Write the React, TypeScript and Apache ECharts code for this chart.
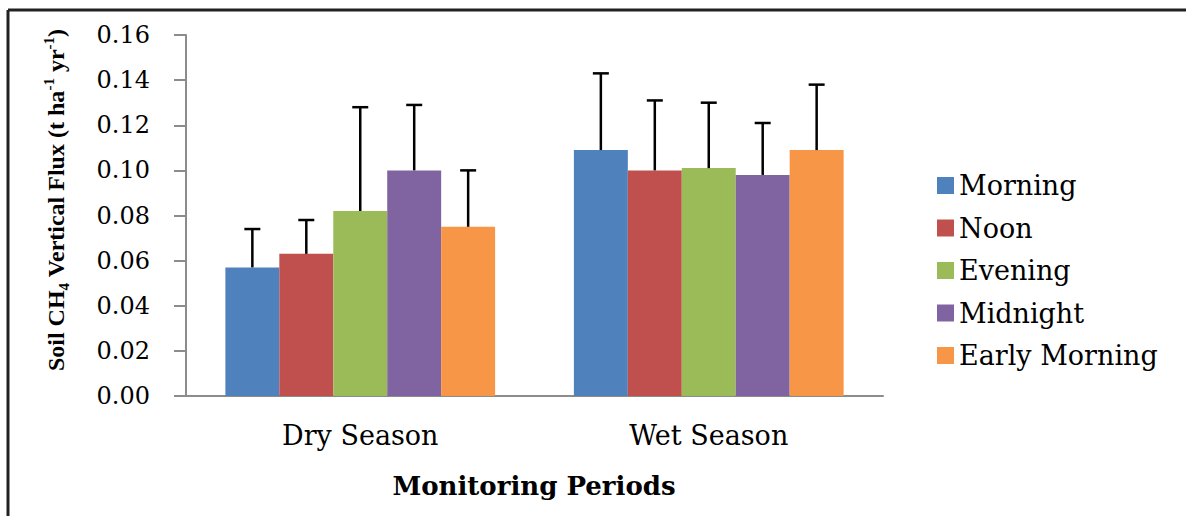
import React, { useEffect, useRef } from "react";
import * as echarts from "echarts";

const categories = ["Dry Season", "Wet Season"];
const seriesNames = ["Morning", "Noon", "Evening", "Midnight", "Early Morning"];
const morning = [0.057, 0.109];
const noon = [0.063, 0.1];
const evening = [0.082, 0.101];
const midnight = [0.1, 0.098];
const earlyMorning = [0.075, 0.109];
const morningSD = [0.017, 0.034];
const noonSD = [0.015, 0.031];
const eveningSD = [0.046, 0.029];
const midnightSD = [0.029, 0.023];
const earlyMorningSD = [0.025, 0.029];
const yTicks = [0, 0.02, 0.04, 0.06, 0.08, 0.1, 0.12, 0.14, 0.16];

const means = [morning, noon, evening, midnight, earlyMorning];
const sds = [morningSD, noonSD, eveningSD, midnightSD, earlyMorningSD];
const colors = ["#4F81BD", "#C0504D", "#9BBB59", "#8064A2", "#F79646"];
const GAP = 0.226;

export default function App() {
  const ref = useRef<HTMLDivElement>(null);
  useEffect(() => {
    if (!ref.current) return;
    const chart = echarts.init(ref.current, null, { renderer: "svg" });
    const barSeries = seriesNames.map((name, i) => ({
      name,
      type: "bar",
      data: means[i],
      barGap: "0%",
      barCategoryGap: (GAP * 100).toFixed(1) + "%",
      itemStyle: { color: colors[i] },
      z: 2,
    }));
    const errSeries = seriesNames.map((name, i) => ({
      name: "err-" + name,
      type: "custom",
      z: 5,
      data: categories.map((_, ci) => [ci, means[i][ci], sds[i][ci]]),
      encode: { x: 0, y: 1 },
      renderItem: (params: any, api: any) => {
        const ci = api.value(0);
        const m = api.value(1);
        const sd = api.value(2);
        const band = api.size([1, 0])[0];
        const bw = (band * (1 - GAP)) / 5;
        const cx = api.coord([ci, 0])[0] + (i - 2) * bw;
        const yBase = api.coord([ci, m])[1];
        const yTop = api.coord([ci, m + sd])[1];
        const st = { stroke: "#000", lineWidth: 2.5 };
        return {
          type: "group",
          children: [
            { type: "line", shape: { x1: cx, y1: yBase, x2: cx, y2: yTop }, style: st },
            { type: "line", shape: { x1: cx - 8, y1: yTop, x2: cx + 8, y2: yTop }, style: st },
          ],
        };
      },
    }));
    chart.setOption({
      animation: false,
      backgroundColor: "#fff",
      grid: { left: 186, right: 303, top: 35, bottom: 120 },
      legend: {
        data: seriesNames,
        orient: "vertical",
        left: 932,
        top: 167,
        itemWidth: 17,
        itemHeight: 17,
        itemGap: 15.5,
        icon: "rect",
        textStyle: { fontFamily: "DejaVu Serif", fontSize: 27, color: "#000" },
      },
      xAxis: {
        type: "category",
        data: categories,
        axisTick: { show: false },
        axisLine: { lineStyle: { color: "#8c8c8c", width: 2 } },
        axisLabel: {
          margin: 26,
          fontFamily: "DejaVu Serif",
          fontSize: 27,
          color: "#000",
        },
      },
      yAxis: {
        type: "value",
        min: 0,
        max: yTicks[yTicks.length - 1],
        interval: 0.02,
        splitLine: { show: false },
        axisLine: { show: true, lineStyle: { color: "#8c8c8c", width: 2 } },
        axisTick: { show: true, length: 12, lineStyle: { color: "#8c8c8c", width: 2 } },
        axisLabel: {
          margin: 36,
          fontFamily: "DejaVu Serif",
          fontSize: 24,
          color: "#000",
          formatter: (v: number) => v.toFixed(2),
        },
      },
      graphic: [
        {
          type: "line",
          shape: { x1: 8, y1: 10, x2: 1186, y2: 10 },
          style: { stroke: "#222", lineWidth: 3 },
        },
        {
          type: "line",
          shape: { x1: 8, y1: 10, x2: 8, y2: 516 },
          style: { stroke: "#222", lineWidth: 3 },
        },
        {
          type: "text",
          x: 534,
          y: 486,
          style: {
            text: "Monitoring Periods",
            fontFamily: "DejaVu Serif",
            fontWeight: "bold",
            fontSize: 26,
            fill: "#000",
            align: "center",
            verticalAlign: "middle",
          },
        },
        {
          type: "text",
          x: 56,
          y: 200,
          rotation: Math.PI / 2,
          style: {
            text: "{b|Soil CH}{s|4}{b| Vertical Flux (t ha}{p|-1}{b| yr}{p|-1}{b|)}",
            align: "center",
            verticalAlign: "middle",
            rich: {
              b: { fontFamily: "Liberation Serif", fontWeight: "bold", fontSize: 24, lineHeight: 30, fill: "#000" },
              s: { fontFamily: "Liberation Serif", fontWeight: "bold", fontSize: 15, lineHeight: 16, verticalAlign: "bottom", fill: "#000" },
              p: { fontFamily: "Liberation Serif", fontWeight: "bold", fontSize: 15, lineHeight: 16, verticalAlign: "top", fill: "#000" },
            },
          },
        },
      ],
      series: [...barSeries, ...errSeries],
    });
    return () => chart.dispose();
  }, []);
  return (
    <div
      ref={ref}
      style={{ position: "fixed", left: 0, top: 0, width: 1186, height: 516 }}
    />
  );
}
